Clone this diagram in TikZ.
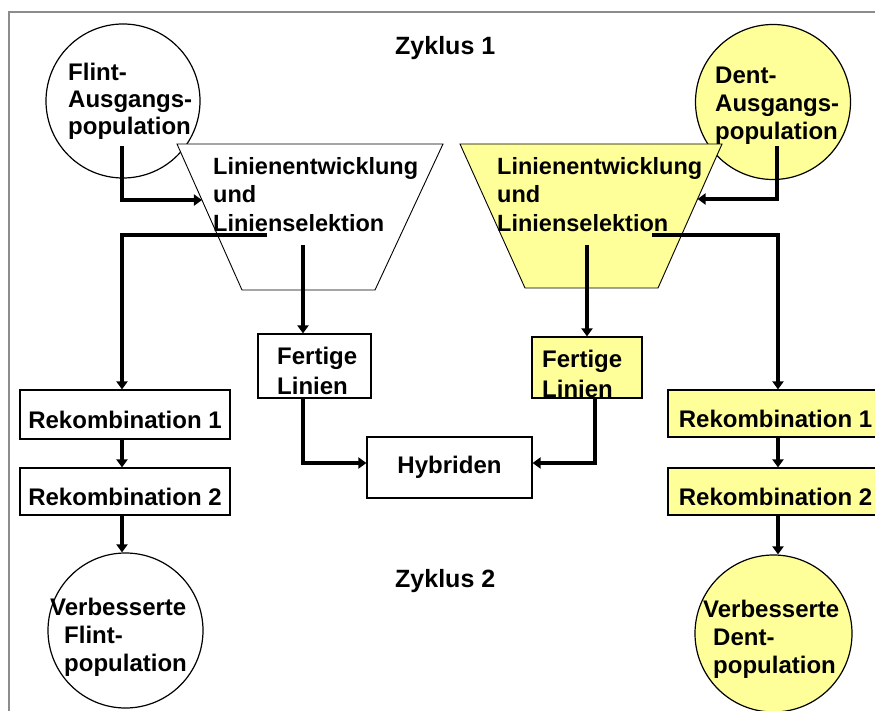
\documentclass[tikz,border=0pt]{standalone}
\usepackage{fontspec}
\setmainfont{Liberation Sans}
\usetikzlibrary{arrows.meta,calc}
\definecolor{dentyellow}{RGB}{255,255,153}
\definecolor{framegray}{RGB}{140,140,140}
\begin{document}
\begin{tikzpicture}[x=1pt,y=-1pt,
  outline/.style={draw=black,line width=1.2pt},
  box/.style={outline,inner sep=0pt,font=\fontsize{24}{28}\selectfont\bfseries,
    text height=27pt,text depth=0pt},
  popcircle/.style={circle,outline,inner sep=0pt},
  label/.style={inner sep=0pt,align=left,anchor=north west},
  conn/.style={line width=4pt,-{Triangle[length=8pt,width=11pt]}},
  title/.style={inner sep=0pt,anchor=base west,font=\fontsize{25}{30}\selectfont\bfseries}]
\useasboundingbox (0,0) rectangle (875,711);

% frame
\draw[framegray,line width=1.5pt] (890,12) -- (9,12) -- (9,720);

% populations
\node[popcircle,fill=white,minimum size=154pt] (flint) at (123,101) {};
\node[popcircle,fill=dentyellow,minimum size=155pt] (dent) at (773,102) {};
\node[popcircle,fill=white,minimum size=155pt] (vflint) at (125.5,630.5) {};
\node[popcircle,fill=dentyellow,minimum size=157pt] (vdent) at (773.5,633.5) {};

% selection funnels
\coordinate (LT1) at (177,144);
\coordinate (LT2) at (443,144);
\coordinate (LB2) at (375,290);
\coordinate (LB1) at (242,290);
\coordinate (RT1) at (460,144);
\coordinate (RT2) at (722,144);
\coordinate (RB2) at (658,288);
\coordinate (RB1) at (525,288);
\draw[fill=white,line width=0.9pt] (LT1) -- (LT2) -- (LB2) -- (LB1) -- cycle;
\draw[fill=dentyellow,line width=0.9pt] (RT1) -- (RT2) -- (RB2) -- (RB1) -- cycle;

% boxes
\node[outline,fill=white,minimum width=113pt,minimum height=64pt] (fertL) at (314.5,366) {};
\node[outline,fill=dentyellow,minimum width=110pt,minimum height=61pt] (fertR) at (587,367.5) {};
\node[box,fill=white,minimum width=165pt,minimum height=61pt,text height=12pt] (hyb) at (449.5,467.5) {Hybriden};
\node[box,fill=white,minimum width=210pt,minimum height=49pt] (rek1L) at (125,414.5) {Rekombination 1};
\node[box,fill=white,minimum width=210pt,minimum height=47pt] (rek2L) at (125,491.5) {Rekombination 2};
\node[box,fill=dentyellow,minimum width=215pt,minimum height=47pt] (rek1R) at (775.5,413.5) {Rekombination 1};
\node[box,fill=dentyellow,minimum width=215pt,minimum height=47pt] (rek2R) at (775.5,491.5) {Rekombination 2};

% texts
\node[label,font=\fontsize{24}{27}\selectfont\bfseries] (flinttxt) at (68,63) {Flint-\\Ausgangs-\\population};
\node[label,font=\fontsize{24}{28}\selectfont\bfseries] (denttxt) at (715,67) {Dent-\\Ausgangs-\\population};
\node[label,font=\fontsize{23.5}{28.5}\selectfont\bfseries] (trapLtxt) at (213,157) {Linienentwicklung\\und\\Linienselektion};
\node[label,font=\fontsize{23.5}{28.5}\selectfont\bfseries] (trapRtxt) at (497,157) {Linienentwicklung\\und\\Linienselektion};
\node[label,font=\fontsize{24}{30}\selectfont\bfseries] (fertLtxt) at (277,347) {Fertige\\Linien};
\node[label,font=\fontsize{24}{30}\selectfont\bfseries] (fertRtxt) at (542,350) {Fertige\\Linien};
\node[label,font=\fontsize{24}{28}\selectfont\bfseries] (vflinttxt) at (50,598) {Verbesserte\\\hspace*{14pt}Flint-\\\hspace*{14pt}population};
\node[label,font=\fontsize{24}{28}\selectfont\bfseries] (vdenttxt) at (703,600) {Verbesserte\\\hspace*{10pt}Dent-\\\hspace*{10pt}population};
\node[title] (z1) at (395,55) {Zyklus 1};
\node[title] (z2) at (395,587) {Zyklus 2};

% connector end points
\coordinate (fs) at (122,146);
\coordinate (ds) at (777,146);
\coordinate (lin) at ($(LT1)!0.384!(LB1)$);
\coordinate (rin) at ($(RT2)!0.382!(RB2)$);
\coordinate (lsplit) at (267,235);
\coordinate (rsplit) at (652,235);
\coordinate (ldown) at (303,245);
\coordinate (rdown) at (587,245);

% connectors
\draw[conn] (fs) |- (lin);
\draw[conn] (ds) |- (rin);
\draw[conn] (lsplit) -| ([xshift=-3pt]rek1L.north);
\draw[conn] (rsplit) -| ([xshift=2.5pt]rek1R.north);
\draw[conn] (ldown) -- (ldown |- fertL.north);
\draw[conn] (rdown) -- (rdown |- fertR.north);
\draw[conn] ([xshift=-11.5pt]fertL.south) |- ([yshift=4.5pt]hyb.west);
\draw[conn] ([xshift=8pt]fertR.south) |- ([yshift=4.5pt]hyb.east);
\draw[conn] ([xshift=-3pt]rek1L.south) -- ([xshift=-3pt]rek2L.north);
\draw[conn] ([xshift=-3pt]rek2L.south) -- ([xshift=-3.5pt]vflint.north);
\draw[conn] ([xshift=2.5pt]rek1R.south) -- ([xshift=2.5pt]rek2R.north);
\draw[conn] ([xshift=2.5pt]rek2R.south) -- ([xshift=4.5pt]vdent.north);
\end{tikzpicture}
\end{document}
